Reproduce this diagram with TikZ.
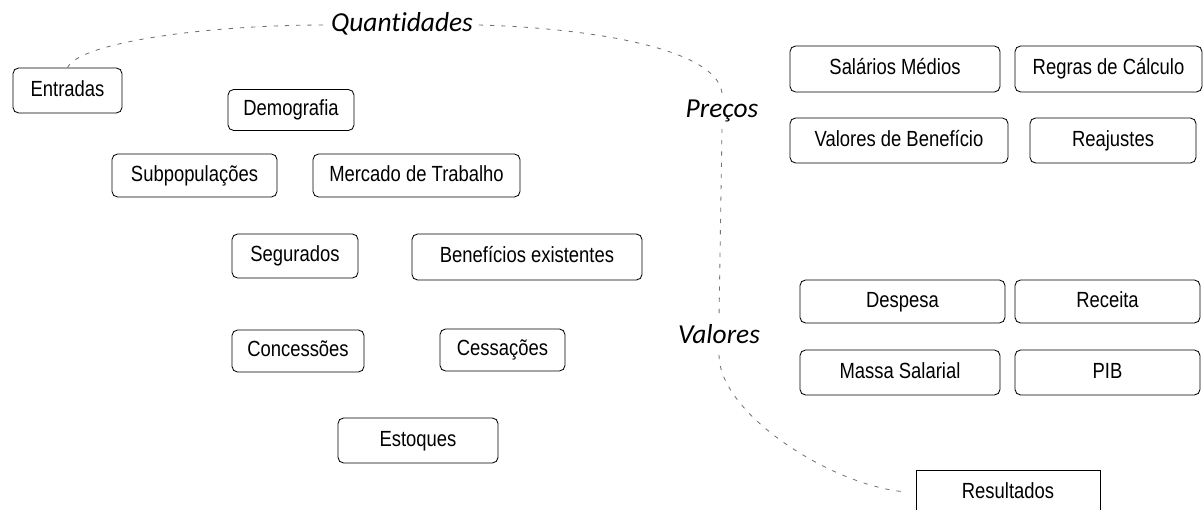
\documentclass[tikz,border=0pt]{standalone}
\usepackage{fontspec}
\setmainfont{Liberation Sans}[FakeStretch=0.84]
\newfontfamily\rotulofont{Carlito}[Ligatures=NoCommon]
\usepackage{tikz}
\tikzset{
    every node/.style={align=center,},
    caixa/.style={draw,rectangle,rounded corners=4pt,line width=0.6pt,inner sep=1pt,
        minimum height=1.1cm,text height=11.5pt,text depth=3pt,font=\fontsize{15.6}{18}\selectfont,},
    rotulo/.style={font=\rotulofont\itshape\fontsize{19.5}{22}\selectfont,inner sep=4pt,
        text height=13pt,text depth=4pt,},
    ligacao/.style={draw=black!55,line width=0.6pt,dash pattern=on 3pt off 5pt,},
}

\begin{document}
\begin{tikzpicture}[x=0.025cm,y=-0.025cm]
        \useasboundingbox (0,0) rectangle (1204,510);

        \node[rotulo] (quantidades) at (402, 25) {Quantidades};
        \node[rotulo] (precos) at (722, 111) {Preços};
        \node[rotulo] (valores) at (719, 337) {Valores};

        \node[caixa, minimum width=2.725cm, minimum height=1.125cm] (entradas) at (67.5, 90.5) {Entradas};
        \node[caixa, minimum width=3.15cm, minimum height=1.025cm] (demografia) at (291, 110) {Demografia};
        \node[caixa, minimum width=4.125cm, minimum height=1.075cm] (subpopulacoes) at (194.5, 175.5) {Subpopulações};
        \node[caixa, minimum width=5.175cm, minimum height=1.075cm] (mercado) at (416.5, 175.5) {Mercado de Trabalho};
        \node[caixa, minimum width=3.15cm] (segurados) at (295, 256) {Segurados};
        \node[caixa, minimum width=5.75cm, minimum height=1.15cm] (beneficios) at (527, 257) {Benefícios existentes};
        \node[caixa, minimum width=3.3cm, minimum height=1.05cm] (concessoes) at (298, 351) {Concessões};
        \node[caixa, minimum width=3.125cm, minimum height=1.05cm] (cessacoes) at (502.5, 350) {Cessações};
        \node[caixa, minimum width=4cm, minimum height=1.125cm] (estoques) at (418, 440.5) {Estoques};

        \node[caixa, minimum width=5.25cm, minimum height=1.15cm] (salarios) at (895, 69) {Salários Médios};
        \node[caixa, minimum width=4.675cm, minimum height=1.15cm] (regras) at (1108.5, 69) {Regras de Cálculo};
        \node[caixa, minimum width=5.45cm, minimum height=1.125cm] (valbeneficio) at (899, 140.5) {Valores de Benefício};
        \node[caixa, minimum width=4.15cm, minimum height=1.125cm] (reajustes) at (1113, 140.5) {Reajustes};

        \node[caixa, minimum width=5.125cm, minimum height=1.075cm] (despesa) at (902.5, 301.5) {Despesa};
        \node[caixa, minimum width=4.625cm, minimum height=1.075cm] (receita) at (1107.5, 301.5) {Receita};
        \node[caixa, minimum width=5cm, minimum height=1.125cm] (massa) at (900, 372.5) {Massa Salarial};
        \node[caixa, minimum width=4.625cm, minimum height=1.125cm] (pib) at (1107.5, 372.5) {PIB};

        \node[caixa, sharp corners, minimum width=4.6cm, minimum height=1.125cm] (resultados) at (1008, 492.5) {Resultados};

        \draw[ligacao] (entradas.north) .. controls +(12,-25) and +(-120,0) .. (quantidades.west);
        \draw[ligacao] (quantidades.east) .. controls +(110,3) and +(-5,-45) .. (precos.north);
        \draw[ligacao] (precos.south) to (valores.north);
        \draw[ligacao, shorten >=6pt] (valores.south) .. controls +(0,60) and +(-80,-5) .. (resultados.west);
    \end{tikzpicture}
\end{document}
